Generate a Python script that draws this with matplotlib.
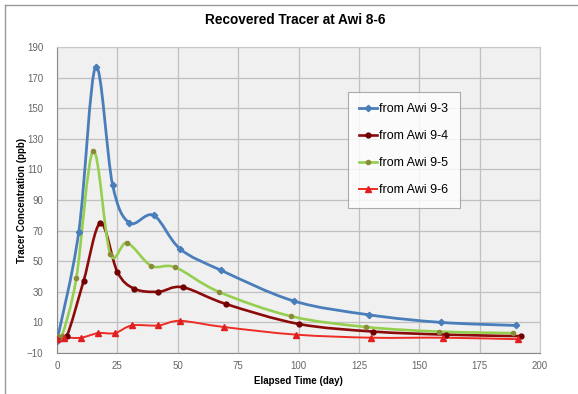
import matplotlib
matplotlib.use('Agg')
import matplotlib.pyplot as plt
from matplotlib.path import Path
from matplotlib.patches import PathPatch
from matplotlib.lines import Line2D
import numpy as np

plt.rcParams['font.family'] = ['Liberation Sans', 'DejaVu Sans']

# data (days, ppb)
awi93_x = [0, 9, 16, 23, 30, 40, 51, 68, 98, 129, 159, 190]
awi93_y = [-2, 69, 177, 100, 75, 80, 58, 44, 24, 15, 10, 8]

awi94_x = [0, 4, 11, 18, 25, 32, 42, 52, 70, 100, 131, 161, 192]
awi94_y = [0, 1, 37, 75, 43, 32, 30, 33, 22, 9, 4, 2, 1]

awi95_x = [0, 2, 8, 15, 22, 29, 39, 49, 67, 97, 128, 158, 189]
awi95_y = [1, 1, 39, 122, 55, 62, 47, 46, 30, 14, 7, 4, 3]

awi96_x = [0, 3, 10, 17, 24, 31, 42, 51, 69, 99, 130, 160, 191]
awi96_y = [-1, 0, 0, 3, 3, 8, 8, 11, 7, 2, 0, 0, -1]

labels = ['from Awi 9-3', 'from Awi 9-4', 'from Awi 9-5', 'from Awi 9-6']
xticks = [0, 25, 50, 75, 100, 125, 150, 175, 200]
yticks = [-10, 10, 30, 50, 70, 90, 110, 130, 150, 170, 190]


def smooth_path(x, y):
    # excel style smoothed line: bezier segments through the points
    p = np.column_stack([x, y]).astype(float)
    n = len(p)
    verts = [p[0]]
    codes = [Path.MOVETO]
    for i in range(n - 1):
        p0 = p[i - 1] if i > 0 else p[i]
        p3 = p[i + 2] if i + 2 < n else p[i + 1]
        c1 = p[i] + (p[i + 1] - p0) / 6.0
        c2 = p[i + 1] - (p3 - p[i]) / 6.0
        verts += [c1, c2, p[i + 1]]
        codes += [Path.CURVE4] * 3
    return Path(verts, codes)


fig = plt.figure(figsize=(5.78, 3.94), dpi=100)
ax = fig.add_axes([57/578, 1-353/394, (540-57)/578, (353-47)/394])
ax.set_facecolor('#f0f0f0')

series = [
    (awi93_x, awi93_y, '#4a7ebb', 'D', 3.2, '#4a7ebb', 2.0),
    (awi94_x, awi94_y, '#8b0a0a', 'o', 3.5, '#700000', 1.9),
    (awi95_x, awi95_y, '#95cf4f', 'o', 3.0, '#8a8a3a', 1.9),
    (awi96_x, awi96_y, '#ee2b24', '^', 3.8, '#e02020', 1.4),
]
handles = []
for (x, y, c, m, ms, mc, lw), lab in zip(series, labels):
    patch = PathPatch(smooth_path(x, y), facecolor='none', edgecolor=c, lw=lw, zorder=3)
    ax.add_patch(patch)
    ax.plot(x, y, linestyle='none', marker=m, ms=ms, color=mc, zorder=4)
    handles.append(Line2D([], [], color=c, lw=lw, marker=m, ms=ms, markerfacecolor=mc, markeredgecolor=mc))

ax.set_xlim(0, 200)
ax.set_ylim(-10, 190)
ax.set_xticks(xticks)
ax.set_yticks(yticks)
ax.grid(True, color='#c0c0c0', lw=0.9)
ax.set_axisbelow(True)
ax.tick_params(length=0, labelsize=7, colors='#666666')
ax.tick_params(axis='x', pad=6)
ax.tick_params(axis='y', pad=10)
for s in ['top', 'right']:
    ax.spines[s].set_color('#c8c8c8')
for s in ['left', 'bottom']:
    ax.spines[s].set_color('#8a8a8a')

ax.set_xlabel('Elapsed Time (day)', fontsize=7, fontweight='bold', labelpad=3)
ax.set_ylabel('Tracer Concentration (ppb)', fontsize=7, fontweight='bold')
ax.yaxis.set_label_coords((27-57)/483, 0.5)
fig.text(295/578, 1-20/394, 'Recovered Tracer at Awi 8-6', ha='center', va='center',
         fontsize=9.8, fontweight='bold')

leg = ax.legend(handles, labels, loc='upper left', bbox_to_anchor=((348-57)/483, 1-(92-47)/306),
                fontsize=9, frameon=True, fancybox=False, edgecolor='#999999',
                handlelength=1.45, handletextpad=0.15, labelspacing=1.2,
                borderpad=0.9, borderaxespad=0)
leg.get_frame().set_linewidth(0.8)

# outer chart frame
fig.add_artist(Line2D([5/578, 5/578], [0, 1-5/394], color='#999999', lw=1.0))
fig.add_artist(Line2D([5/578, 1], [1-5/394, 1-5/394], color='#999999', lw=1.0))

fig.savefig('out.png', dpi=100)
